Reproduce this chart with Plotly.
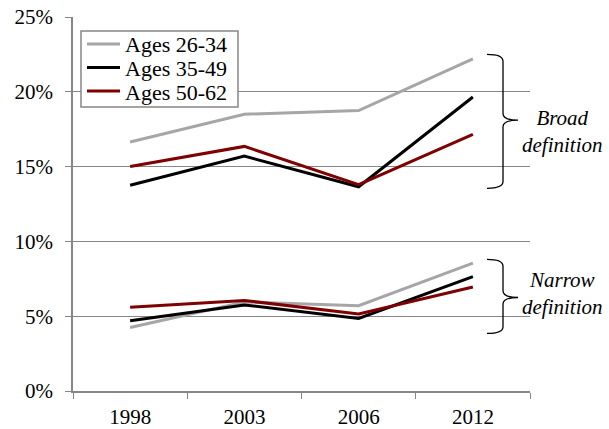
import plotly.graph_objects as go

# ==================== DATA ====================

YEARS = ["1998", "2003", "2006", "2012"]

# broad definition (%)
BROAD_26_34 = [16.65, 18.5, 18.75, 22.2]
BROAD_35_49 = [13.75, 15.7, 13.65, 19.65]
BROAD_50_62 = [15.0, 16.35, 13.8, 17.15]

# narrow definition (%)
NARROW_26_34 = [4.25, 5.95, 5.7, 8.55]
NARROW_35_49 = [4.7, 5.75, 4.85, 7.65]
NARROW_50_62 = [5.6, 6.05, 5.15, 6.95]

AGE_GROUPS = ["Ages 26-34", "Ages 35-49", "Ages 50-62"]
COLOURS = ["#a6a6a6", "#000000", "#7f0000"]

FONT_FAMILY = "Liberation Serif, Times New Roman, serif"
FONT_SIZE = 21
AXIS_GREY = "#868686"

# figure geometry (px)
W, H = 609, 429
M_L, M_R, M_T, M_B = 73, 79, 17, 38
PLOT_W = W - M_L - M_R
PLOT_H = H - M_T - M_B


def px_x(x):
  return (x - M_L) / PLOT_W


def px_y(y):
  return (H - M_B - y) / PLOT_H


fig = go.Figure()

for name, colour, broad, narrow in zip(
    AGE_GROUPS, COLOURS,
    [BROAD_26_34, BROAD_35_49, BROAD_50_62],
    [NARROW_26_34, NARROW_35_49, NARROW_50_62]):
  for vals in (broad, narrow):
    fig.add_trace(go.Scatter(
      x=YEARS, y=vals, name=name, mode="lines",
      line=dict(color=colour, width=3),
      legendgroup=name, showlegend=False,
      hovertemplate=name + " %{x}: %{y:.1f}%<extra></extra>",
    ))


# ==================== LEGEND (Excel style, tight rows) ====================

fig.add_shape(
  type="rect", xref="paper", yref="paper",
  x0=px_x(81), x1=px_x(238), y0=px_y(107), y1=px_y(31),
  line=dict(color=AXIS_GREY, width=1.5), fillcolor="white", layer="above",
)
for i, (name, colour) in enumerate(zip(AGE_GROUPS, COLOURS)):
  row_y = 44 + i * 23.5
  fig.add_shape(
    type="line", xref="paper", yref="paper",
    x0=px_x(87), x1=px_x(120), y0=px_y(row_y), y1=px_y(row_y),
    line=dict(color=colour, width=3), layer="above",
  )
  fig.add_annotation(
    xref="paper", yref="paper", x=px_x(123), y=px_y(row_y + 1),
    text=name, showarrow=False, xanchor="left", yanchor="middle",
    font=dict(family=FONT_FAMILY, size=22, color="black"),
  )


# ==================== BRACES ====================

def brace_path(x0, x1, x2, top, mid, bot, d):
  return (
    f"M {x0},{top} Q {x1},{top} {x1},{top - d} "
    f"L {x1},{mid + d} Q {x1},{mid} {x2},{mid} "
    f"Q {x1},{mid} {x1},{mid - d} "
    f"L {x1},{bot + d} Q {x1},{bot} {x0},{bot}"
  )

for top, mid, bot, label, ylab in [
  (22.5, 18.1, 13.55, "<i>Broad</i><br><i>definition</i>", 17.35),
  (8.8, 6.25, 3.85, "<i>Narrow</i><br><i>definition</i>", 6.5),
]:
  fig.add_shape(
    type="path", xref="paper", yref="y",
    path=brace_path(px_x(487), px_x(503), px_x(518), top, mid, bot, 0.45),
    line=dict(color="black", width=1.3),
  )
  fig.add_annotation(
    xref="paper", yref="y", x=px_x(562), y=ylab, text=label,
    showarrow=False, xanchor="center", yanchor="middle",
    font=dict(family=FONT_FAMILY, size=FONT_SIZE, color="black"),
  )


# ==================== LAYOUT ====================

fig.update_layout(
  width=W, height=H,
  margin=dict(l=M_L, r=M_R, t=M_T, b=M_B),
  paper_bgcolor="white",
  plot_bgcolor="white",
  font=dict(family=FONT_FAMILY, size=FONT_SIZE, color="black"),
  showlegend=False,
)

fig.update_xaxes(
  type="category",
  range=[-0.5, 3.5],
  tickson="boundaries",
  ticks="outside", ticklen=6, tickcolor=AXIS_GREY,
  ticklabelstandoff=6,
  showline=True, linecolor=AXIS_GREY, linewidth=1.5,
  showgrid=False, zeroline=False,
  automargin=False,
  tickfont=dict(family=FONT_FAMILY, size=FONT_SIZE, color="black"),
)

fig.update_yaxes(
  range=[0, 25], dtick=5,
  ticksuffix="%",
  ticks="outside", ticklen=6, tickcolor=AXIS_GREY,
  ticklabelstandoff=8,
  showline=True, linecolor=AXIS_GREY, linewidth=1.5,
  showgrid=True, gridcolor=AXIS_GREY, gridwidth=1,
  zeroline=False,
  automargin=False,
  tickfont=dict(family=FONT_FAMILY, size=FONT_SIZE, color="black"),
)

# page body margin would shift the fixed-size figure by 8px
fig.write_html(
  "out.html",
  config={"displayModeBar": False},
  post_script="document.body.style.margin='0px';",
)
